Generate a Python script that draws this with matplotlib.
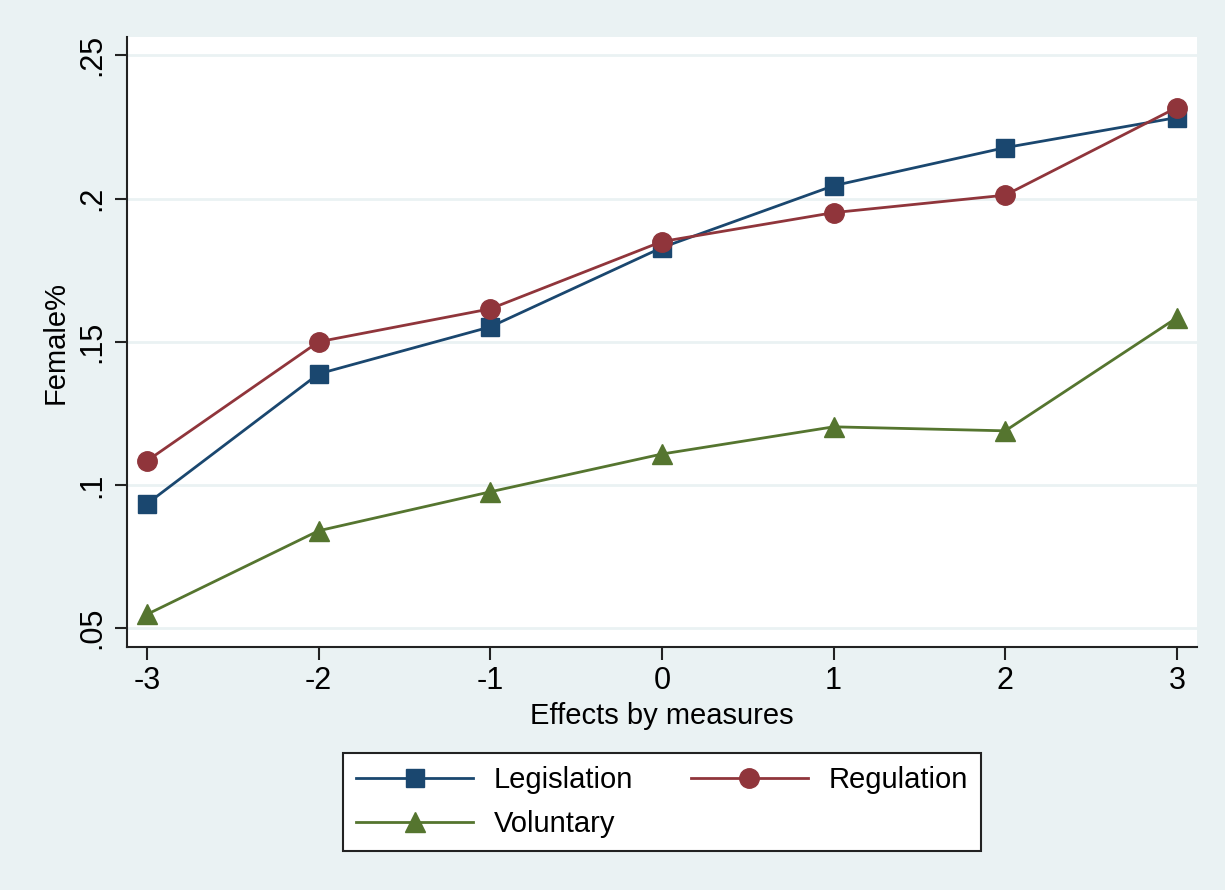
import matplotlib.pyplot as plt

plt.rcParams['font.family'] = ['Liberation Sans', 'DejaVu Sans']

# data
x = [-3, -2, -1, 0, 1, 2, 3]
legislation = [0.0934, 0.1388, 0.1552, 0.1829, 0.2045, 0.2178, 0.2283]
regulation = [0.1084, 0.1500, 0.1615, 0.1850, 0.1951, 0.2012, 0.2318]
voluntary = [0.0548, 0.0840, 0.0976, 0.1108, 0.1203, 0.1189, 0.1584]

yticks = [0.05, 0.10, 0.15, 0.20, 0.25]
ytick_labels = [".05", ".1", ".15", ".2", ".25"]

bg = '#EAF2F3'
navy = '#1A476F'
maroon = '#90353B'
green = '#55752F'

fig = plt.figure(figsize=(12.25, 8.9), dpi=100, facecolor=bg)
ax = fig.add_axes([0.1037, 0.273, 0.8733, 0.685])
ax.set_facecolor('white')

for yv in yticks:
    ax.axhline(yv, color=bg, lw=2, zorder=0)

l1, = ax.plot(x, legislation, color=navy, lw=2, marker='s', ms=13, label='Legislation')
l2, = ax.plot(x, regulation, color=maroon, lw=2, marker='o', ms=14, label='Regulation')
l3, = ax.plot(x, voluntary, color=green, lw=2, marker='^', ms=15, label='Voluntary')

ax.set_xlim(-3.116, 3.116)
ax.set_ylim(0.0434, 0.2563)
ax.set_xticks(x)
ax.set_xticklabels([str(v) for v in x], fontsize=22)
ax.set_yticks(yticks)
ax.set_yticklabels(ytick_labels, fontsize=22, rotation=90, va='center')

for s in ['top', 'right']:
    ax.spines[s].set_visible(False)
for s in ['left', 'bottom']:
    ax.spines[s].set_linewidth(1.5)
    ax.spines[s].set_color('#222222')
ax.tick_params(axis='both', length=9, width=1.5, color='#222222', pad=5)

ax.set_xlabel('Effects by measures', fontsize=21, labelpad=4)
ax.set_ylabel('Female%', fontsize=21, labelpad=6)

leg = ax.legend([l1, l3, l2], ['Legislation', 'Voluntary', 'Regulation'],
                ncol=2, loc='upper center', bbox_to_anchor=(0.5, -0.15),
                fontsize=21, frameon=True, fancybox=False, edgecolor='#222222',
                handlelength=4.0, columnspacing=2.0, borderpad=0.45,
                labelspacing=0.55, handletextpad=0.7, framealpha=1)
leg.get_frame().set_linewidth(1.5)

fig.savefig('out.png', dpi=100, facecolor=bg)
